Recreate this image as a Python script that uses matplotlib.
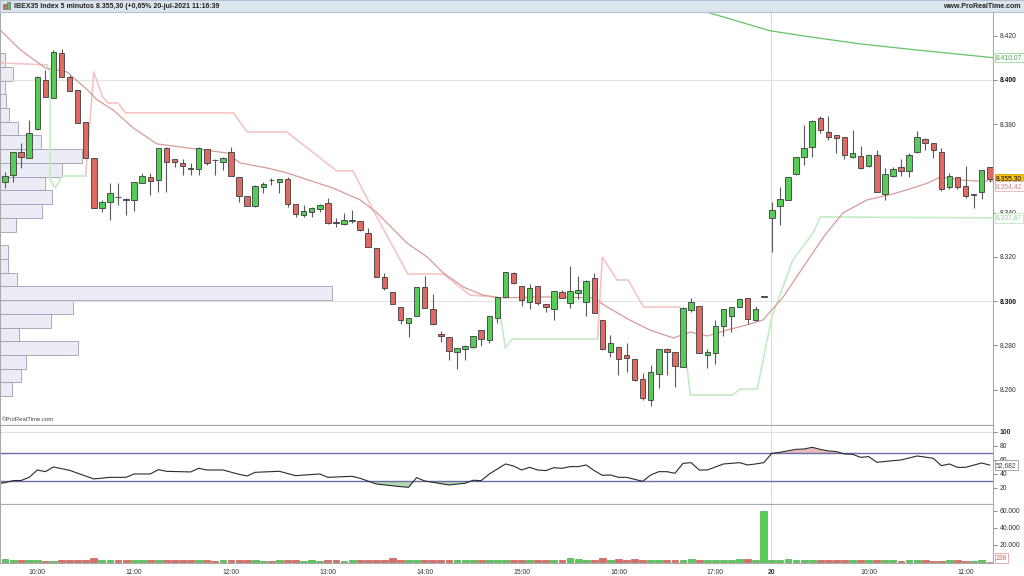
import numpy as np
import matplotlib
matplotlib.use('Agg')
import matplotlib.pyplot as plt
from matplotlib.patches import Rectangle

plt.rcParams['font.family'] = ['Liberation Sans', 'DejaVu Sans']

# 5-minute candles, IBEX35: 19-jul 9:40 .. 17:30, then 20-jul 9:00 .. 11:15
opens = [
    8353.9, 8357.1, 8367.5, 8364.7, 8377.9, 8400.0, 8391.9, 8412.2, 8401.4, 8395.5,
    8381.0, 8364.7, 8342.1, 8344.9, 8347.1, 8346.2, 8345.8, 8353.4, 8356.2, 8354.8,
    8369.3, 8364.3, 8362.5, 8359.8, 8359.8, 8368.8, 8363.8, 8362.9, 8367.5, 8356.2,
    8347.6, 8343.0, 8351.6, 8354.8, 8353.9, 8355.3, 8344.0, 8339.0, 8340.3, 8341.7,
    8344.4, 8335.4, 8334.9, 8336.3, 8336.3, 8330.8, 8324.1, 8311.0, 8304.2, 8297.4,
    8290.2, 8293.3, 8306.4, 8296.5, 8285.2, 8283.8, 8277.1, 8278.4, 8279.3, 8287.0,
    8282.5, 8292.4, 8301.9, 8312.8, 8306.9, 8299.6, 8306.9, 8298.8, 8296.5, 8304.2,
    8299.2, 8303.7, 8299.7, 8310.5, 8291.5, 8277.1, 8279.3, 8275.7, 8273.9, 8264.9,
    8255.4, 8267.1, 8278.4, 8277.1, 8270.2, 8296.0, 8297.9, 8275.7, 8276.6, 8288.8,
    8293.3, 8297.4, 8301.5, 8291.5, 8301.9, 8337.6, 8343.0, 8345.8, 8357.5, 8365.2,
    8369.7, 8382.8, 8376.5, 8375.1, 8374.2, 8365.2, 8365.7, 8361.1, 8366.1, 8348.5,
    8356.6, 8360.7, 8358.9, 8367.5, 8373.3, 8371.5, 8367.5, 8351.6, 8356.2, 8352.1,
    8348.0, 8349.4, 8360.7]
highs = [
    8358.4, 8367.5, 8371.5, 8381.9, 8401.8, 8404.5, 8413.6, 8414.0, 8402.3, 8395.5,
    8381.0, 8364.7, 8345.8, 8353.4, 8353.4, 8346.7, 8353.9, 8357.9, 8357.9, 8369.3,
    8369.7, 8364.3, 8364.3, 8362.5, 8369.7, 8368.8, 8364.3, 8365.2, 8369.7, 8356.2,
    8347.6, 8352.5, 8353.9, 8355.7, 8355.3, 8356.2, 8344.0, 8343.5, 8342.6, 8344.0,
    8346.7, 8337.6, 8339.9, 8341.2, 8336.3, 8333.1, 8324.1, 8312.8, 8304.2, 8297.4,
    8292.4, 8306.4, 8311.4, 8303.3, 8286.5, 8283.8, 8278.9, 8280.2, 8284.3, 8287.0,
    8293.3, 8301.9, 8313.2, 8313.2, 8306.9, 8307.8, 8306.9, 8298.8, 8304.6, 8305.1,
    8315.9, 8311.4, 8309.6, 8312.8, 8291.5, 8284.7, 8279.3, 8281.1, 8273.9, 8267.6,
    8271.2, 8278.4, 8278.9, 8277.1, 8297.4, 8301.5, 8297.9, 8278.4, 8291.5, 8296.5,
    8297.4, 8301.5, 8301.5, 8297.9, 8301.9, 8344.9, 8351.6, 8356.2, 8365.2, 8379.7,
    8381.9, 8383.7, 8383.7, 8375.1, 8374.2, 8377.4, 8370.2, 8366.1, 8368.4, 8360.2,
    8360.7, 8364.3, 8367.0, 8376.9, 8373.8, 8371.5, 8369.3, 8357.9, 8356.2, 8361.1,
    8348.5, 8359.3, 8360.7]
lows = [
    8351.2, 8353.9, 8360.2, 8364.7, 8377.4, 8392.3, 8391.9, 8401.4, 8395.0, 8380.6,
    8364.7, 8342.1, 8340.3, 8336.7, 8343.5, 8339.0, 8340.8, 8353.4, 8348.0, 8349.4,
    8349.4, 8360.7, 8357.1, 8357.1, 8357.1, 8361.6, 8357.1, 8359.3, 8356.6, 8344.9,
    8343.0, 8342.6, 8348.9, 8352.5, 8348.9, 8342.6, 8338.1, 8338.1, 8338.1, 8340.3,
    8334.9, 8333.6, 8334.5, 8335.4, 8331.7, 8324.5, 8311.0, 8305.1, 8298.8, 8289.7,
    8283.8, 8293.3, 8296.9, 8289.3, 8281.6, 8273.4, 8269.4, 8273.4, 8278.9, 8279.8,
    8281.1, 8290.2, 8301.9, 8307.8, 8297.8, 8296.5, 8298.3, 8295.1, 8291.5, 8301.5,
    8297.0, 8301.0, 8293.3, 8294.7, 8278.0, 8274.8, 8266.7, 8268.0, 8264.0, 8255.4,
    8252.7, 8260.8, 8266.7, 8261.2, 8270.2, 8295.1, 8276.6, 8269.8, 8271.6, 8284.3,
    8286.1, 8297.4, 8289.7, 8291.1, 8301.9, 8322.3, 8334.5, 8345.8, 8357.1, 8361.6,
    8365.2, 8376.0, 8372.9, 8367.0, 8364.3, 8364.7, 8359.8, 8360.7, 8349.4, 8345.8,
    8356.2, 8356.6, 8356.2, 8367.0, 8368.4, 8364.7, 8349.8, 8350.7, 8350.7, 8346.7,
    8342.2, 8346.2, 8353.9]
closes = [
    8356.6, 8367.5, 8365.2, 8376.0, 8401.4, 8392.3, 8412.7, 8401.4, 8395.0, 8380.6,
    8364.7, 8342.1, 8344.9, 8348.9, 8347.0, 8345.8, 8353.9, 8356.6, 8354.3, 8369.3,
    8362.9, 8362.9, 8361.1, 8359.7, 8369.3, 8362.5, 8363.7, 8364.7, 8356.6, 8347.6,
    8343.0, 8352.1, 8353.0, 8354.7, 8355.3, 8344.0, 8339.4, 8340.8, 8342.1, 8343.5,
    8335.4, 8335.3, 8336.7, 8336.7, 8332.2, 8324.5, 8311.0, 8306.0, 8298.8, 8291.5,
    8292.4, 8306.4, 8296.9, 8289.7, 8284.3, 8277.5, 8278.9, 8279.8, 8284.3, 8283.0,
    8293.3, 8301.9, 8313.2, 8308.2, 8300.6, 8306.0, 8299.2, 8297.4, 8304.6, 8301.5,
    8304.6, 8305.1, 8309.1, 8294.7, 8278.4, 8281.1, 8273.9, 8274.3, 8264.4, 8256.3,
    8268.0, 8278.4, 8277.1, 8270.7, 8296.9, 8299.7, 8276.6, 8277.1, 8288.8, 8296.5,
    8297.4, 8301.0, 8292.0, 8296.5, 8301.9, 8341.2, 8346.2, 8356.2, 8365.2, 8369.3,
    8381.5, 8377.4, 8374.2, 8373.8, 8366.1, 8367.0, 8360.2, 8366.1, 8349.4, 8357.5,
    8359.8, 8358.9, 8366.1, 8374.2, 8371.5, 8368.4, 8350.7, 8356.6, 8351.6, 8347.6,
    8348.0, 8359.3, 8355.3]
volumes = [
    2800, 2600, 2500, 1800, 1500, 1200, 1400, 2000, 1500, 1800,
    2200, 4200, 2300, 2100, 2000, 1900, 1600, 1800, 1500, 2000,
    2200, 1700, 1600, 2600, 1800, 1500, 1400, 1600, 2000, 1700,
    1500, 1600, 1400, 1300, 1500, 1800, 1600, 1400, 1500, 1300,
    1800, 1500, 1400, 1600, 1700, 1900, 2200, 2000, 4000, 2000,
    1600, 1500, 1700, 1900, 2500, 2200, 2600, 2000, 1800, 1700,
    2000, 2600, 2200, 1800, 1600, 1500, 1700, 2000, 2200, 2100,
    4300, 2800, 2000, 2500, 3800, 2600, 3300, 2000, 2800, 2100,
    2400, 2200, 2400, 2300, 2600, 2700, 2200, 2300, 2100, 2000,
    2100, 2800, 2800, 2300, 60000, 2600, 2400, 2800, 2000, 2500,
    2600, 2200, 2000, 2100, 1800, 1600, 1700, 1500, 1900, 2500,
    1600, 1400, 1500, 1600, 1700, 1300, 1400, 1800, 1500, 1300,
    1200, 1500, 238]

# moving average (salmon line), read at vertices
ma_x = [-0.62, 1.9, 5.0, 7.7, 10.2, 11.4, 13.4, 15.9, 18.8, 22.6, 27.5, 29.1, 32.5,
        34.9, 40.6, 44.0, 46.1, 49.8, 52.3, 54.3, 56.8, 59.2, 61.3, 65.9, 68.8,
        72.9, 74.6, 77.4, 79.9, 82.8, 84.9, 87.0, 89.5, 91.9, 93.9, 96.4, 98.9,
        101.4, 103.8, 106.8, 110.0, 112.5, 114.3, 115.9, 118.3, 120.4, 122.4]
ma_y = [8422.6, 8413.6, 8405.4, 8403.6, 8395.5, 8391.0, 8386.4, 8378.3, 8371.1,
        8369.3, 8367.0, 8362.5, 8360.2, 8358.0, 8351.2, 8345.8, 8339.9, 8326.3,
        8320.0, 8312.8, 8306.4, 8302.8, 8301.5, 8301.9, 8301.9, 8301.5, 8297.4,
        8291.5, 8287.0, 8283.4, 8286.1, 8284.3, 8287.0, 8289.3, 8291.5, 8301.9,
        8315.5, 8329.0, 8339.9, 8345.8, 8348.5, 8351.2, 8353.4, 8356.2, 8354.8,
        8354.3, 8354.42]

# long average (green, top right)
lma_x = [82.0, 86.9, 94.8, 98.9, 105.9, 112.8, 122.4]
lma_y = [8436.0, 8430.7, 8422.2, 8419.9, 8416.3, 8413.6, 8410.07]

# trailing stop: resistance (pink) and support (green) pieces
stop_up = [
    ([-0.62, 5.2], [8407.7, 8406.8]),
    ([10.0, 11.0, 12.1, 12.8, 14.0, 14.9, 28.3, 30.0, 34.9, 41.1, 43.1, 45.6,
      49.9, 54.3, 57.6, 61.0],
     [8356.6, 8403.6, 8392.3, 8389.6, 8389.6, 8385.1, 8385.1, 8376.5, 8376.5,
      8358.9, 8358.9, 8341.2, 8312.3, 8312.3, 8302.8, 8301.9]),
    ([73.4, 74.0, 75.8, 77.2, 79.1, 83.6],
     [8282.9, 8320.0, 8309.6, 8309.6, 8297.4, 8297.4]),
]
stop_dn = [
    ([5.2, 5.6, 5.6, 6.2, 7.1, 10.0],
     [8406.8, 8403.2, 8354.8, 8351.2, 8356.6, 8356.6]),
    ([61.0, 62.0, 62.8, 73.4], [8301.9, 8278.9, 8282.9, 8282.9]),
    ([83.6, 84.9, 90.1, 91.1, 93.2, 95.0, 97.6, 100.1, 101.0, 122.4],
     [8297.4, 8257.6, 8257.6, 8260.3, 8260.3, 8292.9, 8318.6, 8330.8, 8338.1, 8337.67]),
]

# volume profile of the first session
profile_levels = [8409.0, 8402.8, 8396.6, 8390.4, 8384.2, 8378.0, 8371.8, 8365.6,
                  8359.4, 8353.2, 8347.0, 8340.8, 8334.6, 8328.4, 8322.2, 8316.0,
                  8309.8, 8303.6, 8297.4, 8291.2, 8285.0, 8278.8, 8272.6, 8266.4,
                  8260.2]
profile_vol = [15, 38, 15, 18, 27, 55, 123, 245, 186, 135, 156, 125, 48, 0, 25, 25,
               52, 995, 218, 152, 58, 233, 78, 62, 35]

# RSI
rsi_x = [-0.62, 0, 1, 2, 3, 4, 5, 6, 8, 11, 13, 15, 16, 18, 19, 20, 23, 24, 25, 27,
         29, 30, 31, 34, 36, 39, 40, 43, 44, 46, 49, 50, 51, 52, 55, 57, 58, 59, 60,
         62, 63, 64, 65, 66, 67, 68, 69, 70, 71, 72, 73, 74, 75, 76, 77, 79, 80, 81,
         82, 83, 84, 85, 86, 87, 89, 90, 91, 92, 93, 94, 95, 96, 98, 99, 100, 101,
         102, 103, 104, 105, 106, 107, 108, 110, 111, 113, 115, 116, 117, 118, 119,
         121, 122]
rsi_y = [26.7, 27.6, 30.5, 30.7, 35.2, 45.7, 43.3, 50.0, 45.2, 32.9, 35.2, 35.2, 40.0,
         40.0, 46.2, 43.8, 42.9, 48.1, 45.7, 45.7, 39.5, 37.1, 42.4, 43.8, 37.6, 40.0,
         35.2, 36.7, 33.8, 25.7, 21.9, 21.0, 34.8, 30.0, 24.3, 26.7, 31.0, 30.5, 40.0,
         54.3, 51.4, 45.7, 49.5, 45.7, 44.8, 49.0, 48.1, 50.5, 50.5, 52.9, 44.8, 38.1,
         38.6, 35.2, 35.2, 29.5, 38.6, 43.3, 43.3, 41.0, 55.2, 56.2, 45.7, 45.7, 54.3,
         55.2, 56.2, 52.9, 54.3, 56.2, 69.5, 71.0, 75.2, 75.7, 78.1, 75.2, 72.9, 72.0,
         68.6, 68.1, 63.8, 64.8, 56.7, 59.0, 60.0, 65.7, 62.4, 51.9, 54.3, 49.5, 49.5,
         55.7, 52.682]

price_ticks = [8420, 8400, 8380, 8340, 8320, 8300, 8280, 8260]
price_labels = ['8.420', '8.400', '8.380', '8.340', '8.320', '8.300', '8.280', '8.260']
rsi_ticks = [100, 80, 60, 40, 20]
vol_ticks = [60000, 40000, 20000]
vol_labels = ['60.000', '40.000', '20.000']
time_pos = [4, 16, 28, 40, 52, 64, 76, 88, 95, 107, 119]
time_labels = ['10:00', '11:00', '12:00', '13:00', '14:00', '15:00', '16:00', '17:00',
               '20', '10:00', '11:00']

W, H = 1024, 576
XLIM = (-0.62, 122.4)
GREEN, RED = '#55cc55', '#de6b63'
SPINE = '#a9a9a9'
FS = 4.9


def rect(x0, y0, x1, y1):
    return [x0 / W, 1 - y1 / H, (x1 - x0) / W, (y1 - y0) / H]


def style_axis(a):
    a.set_xlim(XLIM)
    a.yaxis.tick_right()
    a.tick_params(axis='y', length=3, width=0.6, color='#777777', pad=2,
                  labelsize=FS, labelcolor='#333333')
    for s in a.spines.values():
        s.set_color(SPINE)
        s.set_linewidth(0.8)


def value_box(a, y, text, fc, ec, tc, trans=None):
    a.text(1.003, y, text, transform=trans or a.get_yaxis_transform(), fontsize=FS,
           color=tc, va='center', ha='left', zorder=10, clip_on=False,
           bbox=dict(boxstyle='square,pad=0.18', fc=fc, ec=ec, lw=0.6))


fig = plt.figure(figsize=(10.24, 5.76), dpi=100)

idx = np.arange(len(opens))
o, h, l, c = map(np.array, (opens, highs, lows, closes))
up = c >= o

# ---- price panel ----
ax_prof = fig.add_axes(rect(0, 12, 993, 424.5))
ax_prof.barh(profile_levels, profile_vol, height=6.2, left=0, color='#ececf6',
             edgecolor='#9d9db5', linewidth=0.6)
ax_prof.set_xlim(0, 2979)
ax_prof.set_ylim(8244.3, 8430.7)
ax_prof.axis('off')

ax = fig.add_axes(rect(0, 12, 993, 424.5))
ax.patch.set_alpha(0)
style_axis(ax)
ax.set_ylim(8244.3, 8430.7)
ax.axhline(8400, color='#e2e2e2', lw=0.8, zorder=0)
ax.axhline(8300, color='#e2e2e2', lw=0.8, zorder=0)
ax.axvline(94.9, color='#dddddd', lw=0.8, zorder=0)

for xs, ys in stop_up:
    ax.plot(xs, ys, color='#f6c4c4', lw=1.2, zorder=1)
for xs, ys in stop_dn:
    ax.plot(xs, ys, color='#c4ecc4', lw=1.2, zorder=1)
ax.plot(ma_x, ma_y, color='#d99b97', lw=0.9, zorder=2)
ax.plot(lma_x, lma_y, color='#66c266', lw=0.9, zorder=2)

ax.vlines(idx, l, h, color='#5a5a5a', lw=0.8, zorder=3)
body = np.maximum(np.abs(c - o), 0.3)
ax.bar(idx, body, bottom=np.minimum(o, c), width=0.68,
       color=np.where(up, GREEN, RED), edgecolor='#3c3c3c', linewidth=0.6, zorder=4)

ax.set_yticks(price_ticks)
ax.set_yticklabels(price_labels)
for t in ax.get_yticklabels():
    if t.get_text() in ('8.400', '8.300'):
        t.set_fontweight('bold')
        t.set_color('#111111')
ax.set_xticks([])
ax.spines['top'].set_visible(False)
ax.text(0.002, 0.012, '\u00a9ProRealTime.com', transform=ax.transAxes, fontsize=4.3,
        color='#444444', va='center')

value_box(ax, 8410.07, '8.410,07', 'white', '#9bd69b', '#46a846')
value_box(ax, 8355.3, '8.355,30', '#f2c21b', '#d6a500', '#111111')
value_box(ax, 8352.0, '8.354,42', 'white', '#e4b4b4', '#d08888')
value_box(ax, 8337.67, '8.337,67', 'white', '#bfe6bf', '#94cf94')

# ---- RSI panel ----
ax_rsi = fig.add_axes(rect(0, 424.5, 993, 504))
style_axis(ax_rsi)
ax_rsi.set_ylim(-2.9, 110.7)
rx, ry = np.array(rsi_x), np.array(rsi_y)
ax_rsi.fill_between(rx, ry, 70, where=ry >= 70, interpolate=True, color='#e5aaaa',
                    alpha=0.8, lw=0)
ax_rsi.fill_between(rx, ry, 30, where=ry <= 30, interpolate=True, color='#9fd39f',
                    alpha=0.8, lw=0)
ax_rsi.axhline(100, color='#e0e0e0', lw=0.8)
ax_rsi.axhline(70, color='#6c6ca6', lw=1.0)
ax_rsi.axhline(30, color='#6c6ca6', lw=1.0)
ax_rsi.axvline(94.9, color='#dddddd', lw=0.8, zorder=0)
ax_rsi.plot(rx, ry, color='#2b2b2b', lw=0.8)
ax_rsi.set_yticks(rsi_ticks)
ax_rsi.set_yticklabels([str(v) for v in rsi_ticks])
ax_rsi.get_yticklabels()[0].set_fontweight('bold')
ax_rsi.set_xticks([])
value_box(ax_rsi, 52.682, '52,682', 'white', '#999999', '#444444')

# ---- volume panel ----
ax_vol = fig.add_axes(rect(0, 504, 993, 563))
style_axis(ax_vol)
ax_vol.set_ylim(-1500, 67900)
ax_vol.axvline(94.9, color='#dddddd', lw=0.8, zorder=0)
ax_vol.bar(idx, volumes, width=0.85, color=np.where(up, GREEN, RED),
           edgecolor=np.where(up, '#3d9a3d', '#b04c46'), linewidth=0.4)
ax_vol.set_yticks(vol_ticks)
ax_vol.set_yticklabels(vol_labels)
ax_vol.set_xticks(time_pos)
ax_vol.set_xticklabels(time_labels)
ax_vol.tick_params(axis='x', length=0, pad=4, labelsize=FS, labelcolor='#333333')
for t in ax_vol.get_xticklabels():
    if t.get_text() == '20':
        t.set_fontweight('bold')
value_box(ax_vol, 4300, '238', 'white', '#e0a0a0', '#d06060')

# ---- header ----
ax_head = fig.add_axes(rect(0, 0, 1024, 12))
ax_head.set_xlim(0, W)
ax_head.set_ylim(12, 0)
ax_head.set_facecolor('#dde6ef')
ax_head.set_xticks([])
ax_head.set_yticks([])
for s in ax_head.spines.values():
    s.set_color('#b5c1cf')
    s.set_linewidth(0.8)
ax_head.add_patch(Rectangle((2.5, 3.5), 3, 5, fc=RED, ec='#555555', lw=0.4))
ax_head.add_patch(Rectangle((6.5, 2.0), 3, 7, fc=GREEN, ec='#555555', lw=0.4))
ax_head.text(14, 6.3, 'IBEX35 Index 5 minutos 8.355,30 (+0,65% 20-jul-2021 11:16:39',
             fontsize=5.0, fontweight='bold', color='#222222', va='center', ha='left')
ax_head.text(1021, 6.3, 'www.ProRealTime.com', fontsize=5.0, fontweight='bold',
             color='#222222', va='center', ha='right')

fig.savefig('out.png', dpi=100)
